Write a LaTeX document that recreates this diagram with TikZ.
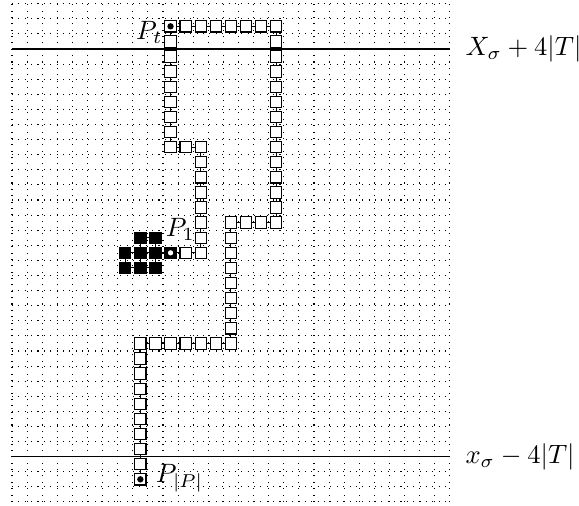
\documentclass[tikz,border=0pt]{standalone}
\usetikzlibrary{calc}
\begin{document}
\begin{tikzpicture}[x=0.2cm,y=0.2cm,
  gridline/.style={dotted,line width=0.4pt},
  boundline/.style={line width=0.4pt},
  sq/.style={draw,fill=white,minimum size=0.15cm,inner sep=0pt,line width=0.4pt},
  blk/.style={draw,fill=black,minimum size=0.15cm,inner sep=0pt,line width=0.4pt},
  conn/.style={line width=0.4pt},
  lbl/.style={inner sep=0pt}]
\useasboundingbox (-0.795,-0.265) rectangle (37.55,33.245);
% dotted grid
\draw[gridline,step=0.2cm] (0,0) grid (29,33);
% bounds
\draw[boundline] (0,30) -- (29,30) node[lbl,anchor=west,xshift=0.2cm] (top) {$X_\sigma+4|T|$};
\draw[boundline] (0,3) -- (29,3) node[lbl,anchor=west,xshift=0.2cm] (bot) {$x_\sigma-4|T|$};
% path squares
\foreach \i in {11,12} \node[sq] (n\i-16) at (\i+0.5,16.5) {};
\foreach \j in {17,...,23} \node[sq] (n12-\j) at (12.5,\j+0.5) {};
\foreach \i in {10,11} \node[sq] (n\i-23) at (\i+0.5,23.5) {};
\foreach \j in {24,...,31} \node[sq] (n10-\j) at (10.5,\j+0.5) {};
\foreach \i in {11,...,17} \node[sq] (n\i-31) at (\i+0.5,31.5) {};
\foreach \j in {18,...,30} \node[sq] (n17-\j) at (17.5,\j+0.5) {};
\foreach \i in {14,15,16} \node[sq] (n\i-18) at (\i+0.5,18.5) {};
\foreach \j in {10,...,17} \node[sq] (n14-\j) at (14.5,\j+0.5) {};
\foreach \i in {8,...,13} \node[sq] (n\i-10) at (\i+0.5,10.5) {};
\foreach \j in {1,...,9} \node[sq] (n8-\j) at (8.5,\j+0.5) {};
% black squares
\node[blk] (n10-16) at (10.5,16.5) {};
\foreach \i/\j in {8/17,9/17,7/16,8/16,9/16,7/15,8/15,9/15}
  \node[blk] (b\i-\j) at (\i+0.5,\j+0.5) {};
% connectors along the path
\foreach \i [remember=\i as \p (initially 10)] in {11,12} \draw[conn] (n\p-16) -- (n\i-16);
\foreach \j [remember=\j as \p (initially 16)] in {17,...,23} \draw[conn] (n12-\p) -- (n12-\j);
\foreach \i [remember=\i as \p (initially 12)] in {11,10} \draw[conn] (n\p-23) -- (n\i-23);
\foreach \j [remember=\j as \p (initially 23)] in {24,...,31} \draw[conn] (n10-\p) -- (n10-\j);
\foreach \i [remember=\i as \p (initially 10)] in {11,...,17} \draw[conn] (n\p-31) -- (n\i-31);
\foreach \j [remember=\j as \p (initially 31)] in {30,29,...,18} \draw[conn] (n17-\p) -- (n17-\j);
\foreach \i [remember=\i as \p (initially 17)] in {16,15,14} \draw[conn] (n\p-18) -- (n\i-18);
\foreach \j [remember=\j as \p (initially 18)] in {17,16,...,10} \draw[conn] (n14-\p) -- (n14-\j);
\foreach \i [remember=\i as \p (initially 14)] in {13,12,...,8} \draw[conn] (n\p-10) -- (n\i-10);
\foreach \j [remember=\j as \p (initially 10)] in {9,8,...,1} \draw[conn] (n8-\p) -- (n8-\j);
% connectors among black squares
\draw[conn] (b7-16) -- (b8-16);
\draw[conn] (b8-16) -- (b9-16);
\draw[conn] (b9-16) -- (n10-16);
\draw[conn] (b8-17) -- (b9-17);
\draw[conn] (b7-15) -- (b8-15);
\draw[conn] (b8-15) -- (b9-15);
\draw[conn] (b7-15) -- (b7-16);
\draw[conn] (b8-15) -- (b8-16);
\draw[conn] (b8-16) -- (b8-17);
\draw[conn] (b9-15) -- (b9-16);
\draw[conn] (b9-16) -- (b9-17);
% marks
\fill[black] (n10-31) circle (1.2pt);
\fill[black] (n8-1) circle (1.2pt);
\fill[white] (n10-16) circle (1pt);
% labels
\node[lbl,anchor=base east] (lt) at (10.0,30.6) {$P_t$};
\node[lbl,anchor=base west] (l1) at (10.15,17.55) {$P_1$};
\node[lbl,anchor=base west] (lp) at (9.5,1.26) {$P_{|P|}$};
\end{tikzpicture}
\end{document}
